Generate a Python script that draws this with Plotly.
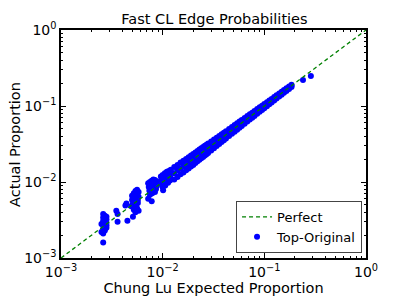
import plotly.graph_objects as go

# ---- data ----
cl_a_x = [0.0026, 0.0027, 0.0026, 0.0027, 0.0028, 0.0026, 0.0027, 0.0026, 0.0028, 0.0027,
          0.0026, 0.0027, 0.0028, 0.0026, 0.0027, 0.0025, 0.0026, 0.0028, 0.0027, 0.0026,
          0.0025, 0.0028]
cl_a_y = [0.0038, 0.0036, 0.0034, 0.0033, 0.0032, 0.0031, 0.0030, 0.0029, 0.0029, 0.0028,
          0.0027, 0.0026, 0.0025, 0.0024, 0.0023, 0.0022, 0.0021, 0.0035, 0.0031, 0.0016,
          0.0028, 0.0027]

cl_b_x = [0.0035, 0.0036, 0.0036, 0.0044, 0.0043, 0.0045]
cl_b_y = [0.0042, 0.0038, 0.0030, 0.0052, 0.0049, 0.0031]

cl_c_x = [0.0050, 0.0052, 0.0054, 0.0056, 0.0058, 0.0050, 0.0052, 0.0054, 0.0056, 0.0058,
          0.0051, 0.0053, 0.0055, 0.0057, 0.0049, 0.0053, 0.0055, 0.0057, 0.0052, 0.0056,
          0.0054, 0.0058, 0.0051]
cl_c_y = [0.0066, 0.0071, 0.0076, 0.0079, 0.0074, 0.0058, 0.0062, 0.0066, 0.0069, 0.0064,
          0.0052, 0.0055, 0.0059, 0.0058, 0.0048, 0.0047, 0.0051, 0.0053, 0.0043, 0.0045,
          0.0040, 0.0042, 0.0035]

cl_d_x = [0.0072, 0.0075, 0.0078, 0.0081, 0.0084, 0.0087, 0.0073, 0.0076, 0.0079, 0.0082,
          0.0085, 0.0088, 0.0074, 0.0077, 0.0080, 0.0083, 0.0086, 0.0075, 0.0079, 0.0084,
          0.0072, 0.0078]
cl_d_y = [0.0096, 0.0100, 0.0104, 0.0108, 0.0106, 0.0102, 0.0086, 0.0090, 0.0094, 0.0097,
          0.0093, 0.0090, 0.0077, 0.0080, 0.0083, 0.0085, 0.0081, 0.0068, 0.0071, 0.0074,
          0.0060, 0.0056]

cl_e_x = [0.0096, 0.0100, 0.0105, 0.0110, 0.0115, 0.0120, 0.0097, 0.0102, 0.0107, 0.0112,
          0.0117, 0.0122, 0.0098, 0.0104, 0.0109, 0.0114, 0.0119, 0.0100, 0.0106, 0.0113,
          0.0101, 0.0118]
cl_e_y = [0.0118, 0.0124, 0.0130, 0.0136, 0.0140, 0.0145, 0.0106, 0.0110, 0.0116, 0.0122,
          0.0127, 0.0132, 0.0095, 0.0099, 0.0104, 0.0110, 0.0114, 0.0085, 0.0090, 0.0098,
          0.0078, 0.0105]

band_x = [0.013, 0.014, 0.015, 0.016, 0.017, 0.018, 0.019, 0.020, 0.021, 0.022,
          0.023, 0.024, 0.025, 0.026, 0.027, 0.028, 0.030, 0.032, 0.034, 0.036,
          0.038, 0.040, 0.042, 0.045, 0.048, 0.051, 0.054, 0.057, 0.060, 0.064,
          0.068, 0.072, 0.076, 0.080, 0.085, 0.090, 0.095, 0.100, 0.106, 0.112,
          0.118, 0.125, 0.132, 0.140, 0.148, 0.156, 0.165, 0.175, 0.185]
band_low = [0.0108, 0.0116, 0.0126, 0.0133, 0.0143, 0.0151, 0.0160, 0.0168, 0.0178, 0.0187,
            0.0196, 0.0205, 0.0214, 0.0223, 0.0232, 0.0241, 0.0260, 0.0279, 0.0298, 0.0316,
            0.0335, 0.0354, 0.0373, 0.0402, 0.0430, 0.0459, 0.0488, 0.0517, 0.0546, 0.0585,
            0.0624, 0.0663, 0.0702, 0.0741, 0.0790, 0.0839, 0.0888, 0.0937, 0.0996, 0.1055,
            0.1114, 0.1183, 0.1252, 0.1331, 0.1410, 0.1489, 0.1578, 0.1678, 0.1778]
band_mid = [0.0130, 0.0142, 0.0150, 0.0162, 0.0170, 0.0182, 0.0190, 0.0201, 0.0212, 0.0220,
            0.0232, 0.0240, 0.0252, 0.0261, 0.0270, 0.0281, 0.0300, 0.0320, 0.0341, 0.0360,
            0.0381, 0.0400, 0.0421, 0.0450, 0.0481, 0.0510, 0.0540, 0.0571, 0.0600, 0.0640,
            0.0681, 0.0720, 0.0761, 0.0800, 0.0851, 0.0900, 0.0951, 0.1000, 0.1061, 0.1120,
            0.1181, 0.1250, 0.1321, 0.1400, 0.1481, 0.1560, 0.1651, 0.1750, 0.1851]
band_high = [0.0157, 0.0167, 0.0180, 0.0190, 0.0200, 0.0212, 0.0224, 0.0234, 0.0245, 0.0256,
             0.0267, 0.0278, 0.0289, 0.0299, 0.0310, 0.0320, 0.0340, 0.0362, 0.0383, 0.0404,
             0.0425, 0.0446, 0.0467, 0.0499, 0.0530, 0.0562, 0.0593, 0.0624, 0.0655, 0.0696,
             0.0737, 0.0778, 0.0818, 0.0859, 0.0910, 0.0960, 0.1010, 0.1060, 0.1120, 0.1180,
             0.1240, 0.1310, 0.1380, 0.1460, 0.1540, 0.1620, 0.1708, 0.1806, 0.1902]

outlier_x = [0.24, 0.287]
outlier_y = [0.22, 0.248]

perfect_x = [0.001, 1.0]
perfect_y = [0.001, 1.0]

tick_vals = [0.001, 0.01, 0.1, 1.0]
tick_text = ["10<sup>\u22123</sup>", "10<sup>\u22122</sup>", "10<sup>\u22121</sup>", "10<sup>0</sup>"]
minor_vals = [m * d for d in [0.001, 0.01, 0.1] for m in range(2, 10)]

# ---- assemble ----
all_x = cl_a_x + cl_b_x + cl_c_x + cl_d_x + cl_e_x + band_x + band_x + band_x + outlier_x
all_y = cl_a_y + cl_b_y + cl_c_y + cl_d_y + cl_e_y + band_low + band_mid + band_high + outlier_y

FONT = "DejaVu Sans"

fig = go.Figure()
fig.add_trace(go.Scatter(
    x=all_x, y=all_y, mode="markers", name="Top-Original",
    marker=dict(color="#0000ff", size=6, line=dict(width=0)),
))
fig.add_trace(go.Scatter(
    x=perfect_x, y=perfect_y, mode="lines", name="Perfect",
    line=dict(color="#008000", width=1.3, dash="4px,3px"),
))

axis_common = dict(
    type="log", automargin=False,
    tickmode="array", tickvals=tick_vals, ticktext=tick_text,
    ticks="inside", ticklen=5, tickwidth=1, tickcolor="black",
    showline=True, linecolor="black", linewidth=1.5, mirror="allticks",
    showgrid=False, zeroline=False,
    tickfont=dict(family=FONT, size=14, color="black"),
    minor=dict(tickmode="array", tickvals=minor_vals, ticks="inside", ticklen=2,
               tickcolor="black", showgrid=False),
)

fig.update_xaxes(**axis_common, range=[-3, 0],
                 title=dict(text="Chung Lu Expected Proportion",
                            font=dict(family=FONT, size=14.5, color="black"), standoff=3))
fig.update_yaxes(**axis_common, range=[-3, 0])

fig.add_annotation(
    text="Actual Proportion", textangle=-90,
    xref="paper", yref="paper", x=-0.151, y=0.5,
    xanchor="center", yanchor="middle", showarrow=False,
    font=dict(family=FONT, size=14.5, color="black"),
)

fig.update_layout(
    width=407, height=305,
    margin=dict(l=61, r=41, t=30, b=47, autoexpand=False),
    paper_bgcolor="white", plot_bgcolor="white",
    title=dict(text="Fast CL Edge Probabilities", x=0.527, xanchor="center",
               y=0.937, yanchor="middle",
               font=dict(family=FONT, size=14.5, color="black")),
    showlegend=True,
    legend=dict(x=0.987, y=0.022, xanchor="right", yanchor="bottom",
                bordercolor="#444444", borderwidth=1, bgcolor="white",
                traceorder="reversed",
                font=dict(family=FONT, size=13, color="black"),
                itemwidth=30, tracegroupgap=0),
)

fig.write_html("out.html", config={"displayModeBar": False},
               post_script="document.body.style.margin='0px';")
